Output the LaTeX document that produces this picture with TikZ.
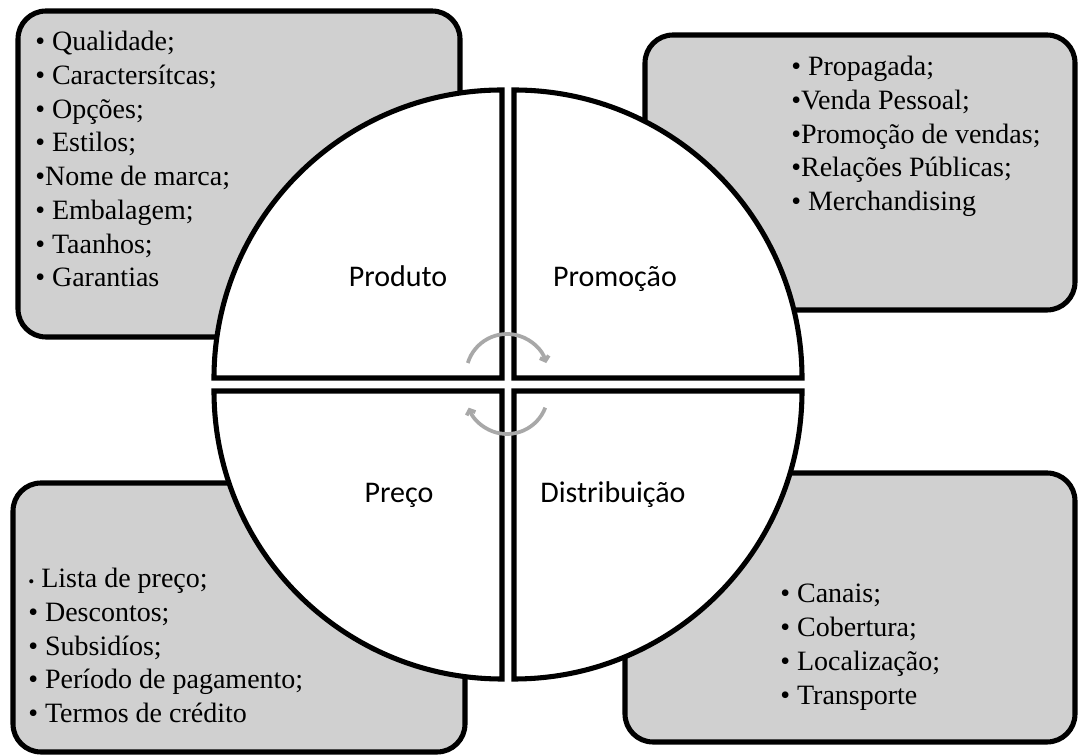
\documentclass[tikz,border=0pt]{standalone}
\usepackage{fontspec}
\usetikzlibrary{arrows.meta}
\setmainfont{Liberation Serif}
\newfontfamily\labelfont{Carlito}

\definecolor{boxgray}{RGB}{208,208,208}
\definecolor{arrowgray}{RGB}{168,168,168}

\tikzset{
  listbox/.style={draw=black, line width=3.8pt, fill=boxgray, rounded corners=21pt},
  sector/.style={draw=black, line width=3.8pt, fill=white},
  items/.style={anchor=north west, inner sep=0pt, align=left,
    font=\fontsize{21pt}{25.3pt}\selectfont},
  mixlabel/.style={anchor=base, inner sep=0pt, font=\labelfont\fontsize{22.5pt}{27pt}\selectfont},
  cycle arrow/.style={draw=arrowgray, line width=2.8pt,
    -{Straight Barb[length=3pt,width=7pt]}}
}

\begin{document}
\begin{tikzpicture}[x=0.75pt,y=0.75pt]
    \useasboundingbox (0,0) rectangle (1078,756);

    % gray boxes behind the circle
    \draw [listbox] (18,419) rectangle (460,745);
    \draw [listbox] (645,446) rectangle (1075,721);
    \draw [listbox] (13,4) rectangle (465,273);
    \draw [listbox] (625,14) rectangle (1075,283);

    % four quarters of the circle
    \coordinate (o) at (508,371.5);
    \draw [sector] ([shift={(-6,6.5)}]o) -- ++(-288,0) arc [start angle=180, end angle=90, radius=288] -- cycle;
    \draw [sector] ([shift={(6,6.5)}]o) -- ++(0,288) arc [start angle=90, end angle=0, radius=288] -- cycle;
    \draw [sector] ([shift={(-6,-6.5)}]o) -- ++(0,-288) arc [start angle=270, end angle=180, radius=288] -- cycle;
    \draw [sector] ([shift={(6,-6.5)}]o) -- ++(288,0) arc [start angle=0, end angle=-90, radius=288] -- cycle;

    % quarter names
    \node [mixlabel] (produto) at (398,469) {Produto};
    \node [mixlabel] (promocao) at (615,469) {Promoção};
    \node [mixlabel] (preco) at (399,253) {Preço};
    \node [mixlabel] (distribuicao) at (613,253) {Distribuição};

    % turning arrows in the middle
    \draw [cycle arrow] (507,381) ++(163:41) arc [start angle=163, end angle=17, radius=41];
    \draw [cycle arrow] (507,363) ++(-21:41) arc [start angle=-21, end angle=-159, radius=41];

    % lists
    \node [items] (produtolist) at (35,725) {• Qualidade;\\• Caractersítcas;\\• Opções;\\• Estilos;\\•Nome de marca;\\• Embalagem;\\• Taanhos;\\• Garantias};
    \node [items] (promocaolist) at (791,700) {• Propagada;\\•Venda Pessoal;\\•Promoção de vendas;\\•Relações Públicas;\\• Merchandising};
    \node [items] (precolist) at (28,188) {{\fontsize{13pt}{13pt}\selectfont •} Lista de preço;\\• Descontos;\\• Subsidíos;\\• Período de pagamento;\\• Termos de crédito};
    \node [items] (distribuicaolist) at (780,172) {• Canais;\\• Cobertura;\\• Localização;\\• Transporte};
\end{tikzpicture}
\end{document}
